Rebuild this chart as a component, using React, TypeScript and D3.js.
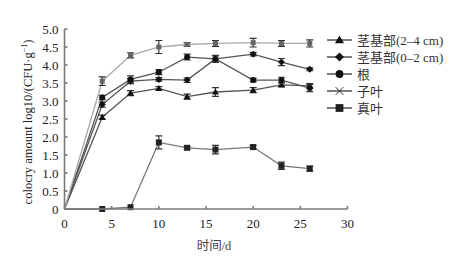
import React, { useEffect, useRef } from 'react';
import * as d3 from 'd3';

const days = [0, 4, 7, 10, 13, 16, 20, 23, 26];
const seriesNames = ['茎基部(2–4 cm)', '茎基部(0–2 cm)', '根', '子叶', '真叶'];
const markers = ['triangle', 'diamond', 'circle', 'cross', 'square'];
const stem24 = [0, 2.55, 3.22, 3.35, 3.12, 3.25, 3.3, 3.45, 3.42];
const stem24Err = [0, 0.06, 0.07, 0.05, 0.07, 0.12, 0.07, 0.06, 0.06];
const stem02 = [0, 2.9, 3.55, 3.6, 3.58, 4.17, 4.3, 4.08, 3.88];
const stem02Err = [0, 0.07, 0.07, 0.05, 0.06, 0.1, 0.05, 0.1, 0.04];
const root = [0, 3.1, 3.6, 3.8, 4.22, 4.17, 3.58, 3.58, 3.36];
const rootErr = [0, 0.06, 0.1, 0.07, 0.08, 0.08, 0.05, 0.08, 0.1];
const cotyledon = [0, 3.55, 4.27, 4.5, 4.57, 4.6, 4.62, 4.6, 4.6];
const cotyledonErr = [0, 0.12, 0.07, 0.18, 0.05, 0.08, 0.12, 0.08, 0.1];
const trueLeaf = [0, 0, 0.05, 1.85, 1.7, 1.65, 1.72, 1.2, 1.12];
const trueLeafErr = [0, 0, 0, 0.18, 0.04, 0.12, 0.05, 0.1, 0.07];
const xTicks = [0, 5, 10, 15, 20, 25, 30];
const yTicks = [0, 0.5, 1, 1.5, 2, 2.5, 3, 3.5, 4, 4.5, 5];

const W = 451;
const H = 256;

export default function App() {
  const svgRef = useRef<SVGSVGElement>(null);

  useEffect(() => {
    if (!svgRef.current) return;
    const svg = d3.select(svgRef.current);
    svg.selectAll('*').remove();

    const x = d3.scaleLinear().domain([0, 30]).range([64.5, 347.5]);
    const y = d3.scaleLinear().domain([0, 5]).range([209, 29]);
    const axisColor = '#7a7a7a';
    const serif = '"Liberation Serif", "Times New Roman", serif';
    const cjk = '"Liberation Serif", "Noto Sans CJK SC", serif';

    const data = [
      { v: stem24, e: stem24Err, line: '#555' },
      { v: stem02, e: stem02Err, line: '#555' },
      { v: root, e: rootErr, line: '#555' },
      { v: cotyledon, e: cotyledonErr, line: '#aaa' },
      { v: trueLeaf, e: trueLeafErr, line: '#777' },
    ];

    const drawMarker = (g: any, kind: string, cx: number, cy: number, s = 1) => {
      if (kind === 'triangle') {
        g.append('path').attr('d', `M${cx},${cy - 3.5 * s}L${cx + 3.5 * s},${cy + 2.5 * s}L${cx - 3.5 * s},${cy + 2.5 * s}Z`).attr('fill', '#111');
      } else if (kind === 'diamond') {
        g.append('path').attr('d', `M${cx},${cy - 3.5 * s}L${cx + 3.5 * s},${cy}L${cx},${cy + 3.5 * s}L${cx - 3.5 * s},${cy}Z`).attr('fill', '#111');
      } else if (kind === 'circle') {
        g.append('circle').attr('cx', cx).attr('cy', cy).attr('r', 3 * s).attr('fill', '#111');
      } else if (kind === 'cross') {
        g.append('path').attr('d', `M${cx - 3 * s},${cy - 3 * s}L${cx + 3 * s},${cy + 3 * s}M${cx - 3 * s},${cy + 3 * s}L${cx + 3 * s},${cy - 3 * s}`).attr('stroke', '#333').attr('stroke-width', 1);
      } else {
        g.append('rect').attr('x', cx - 3 * s).attr('y', cy - 3 * s).attr('width', 6 * s).attr('height', 6 * s).attr('fill', '#222');
      }
    };

    // Series lines
    const line = d3.line<number>().x((_, i) => x(days[i])).y(d => y(d));
    const plot = svg.append('g');
    data.forEach(s => {
      plot.append('path')
        .datum(s.v)
        .attr('fill', 'none')
        .attr('stroke', s.line)
        .attr('stroke-width', 1.3)
        .attr('d', line);
    });

    // Error bars and markers
    data.forEach((s, k) => {
      const g = plot.append('g');
      s.v.forEach((v, i) => {
        const cx = x(days[i]);
        const err = s.e[i];
        if (err > 0) {
          const top = y(v + err);
          const bot = y(v - err);
          g.append('path')
            .attr('d', `M${cx},${top}V${bot}M${cx - 3.5},${top}H${cx + 3.5}M${cx - 3.5},${bot}H${cx + 3.5}`)
            .attr('stroke', '#333')
            .attr('stroke-width', 1.2)
            .attr('fill', 'none');
        }
        if (i > 0) {
          if (k === 3) {
            g.append('rect').attr('x', cx - 2.5).attr('y', y(v) - 2.5).attr('width', 5).attr('height', 5).attr('fill', '#666');
          } else {
            drawMarker(g, markers[k], cx, y(v));
          }
        }
      });
    });

    // Axes
    const axes = svg.append('g').attr('stroke', axisColor).attr('stroke-width', 1.6);
    axes.append('line').attr('x1', x(0)).attr('x2', x(0)).attr('y1', y(0)).attr('y2', y(5));
    axes.append('line').attr('x1', x(0)).attr('x2', x(30)).attr('y1', y(0)).attr('y2', y(0));
    yTicks.forEach(t => {
      axes.append('line').attr('x1', x(0)).attr('x2', x(0) + 3).attr('y1', y(t)).attr('y2', y(t));
    });
    xTicks.forEach(t => {
      axes.append('line').attr('x1', x(t)).attr('x2', x(t)).attr('y1', y(0)).attr('y2', y(0) - 3);
    });

    svg.append('g').selectAll('text').data(yTicks).enter().append('text')
      .attr('x', x(0) - 6)
      .attr('y', d => y(d))
      .attr('dy', '0.35em')
      .attr('text-anchor', 'end')
      .attr('font-family', serif)
      .attr('font-size', 13)
      .attr('fill', '#222')
      .text(d => (d === 0 ? '0' : d.toFixed(1)));

    svg.append('g').selectAll('text').data(xTicks).enter().append('text')
      .attr('x', d => x(d))
      .attr('y', 228)
      .attr('text-anchor', 'middle')
      .attr('font-family', serif)
      .attr('font-size', 13)
      .attr('fill', '#222')
      .text(d => String(d));

    svg.append('text')
      .attr('x', 214)
      .attr('y', 250)
      .attr('text-anchor', 'middle')
      .attr('font-family', cjk)
      .attr('font-size', 12.5)
      .attr('fill', '#444')
      .text('时间/d');

    const yl = svg.append('text')
      .attr('transform', `translate(32,122) rotate(-90)`)
      .attr('text-anchor', 'middle')
      .attr('font-family', serif)
      .attr('font-size', 12.5)
      .attr('fill', '#222');
    yl.append('tspan').text('colocry amount log10/(CFU·g');
    yl.append('tspan').attr('font-size', 8).attr('dy', -5).text('−1');
    yl.append('tspan').attr('dy', 5).text(')');

    // Legend
    const legend = svg.append('g');
    seriesNames.forEach((name, k) => {
      const ly = 40 + k * 17;
      legend.append('line').attr('x1', 327).attr('x2', 352).attr('y1', ly).attr('y2', ly)
        .attr('stroke', '#222').attr('stroke-width', 1.2);
      drawMarker(legend, markers[k], 339.5, ly, 1.3);
      legend.append('text')
        .attr('x', 357)
        .attr('y', ly)
        .attr('dy', '0.35em')
        .attr('font-family', cjk)
        .attr('font-size', 13)
        .attr('fill', '#333')
        .text(name);
    });
  }, []);

  return (
    <svg
      ref={svgRef}
      width={W}
      height={H}
      style={{ position: 'absolute', left: 0, top: 0, background: '#fff' }}
    />
  );
}
